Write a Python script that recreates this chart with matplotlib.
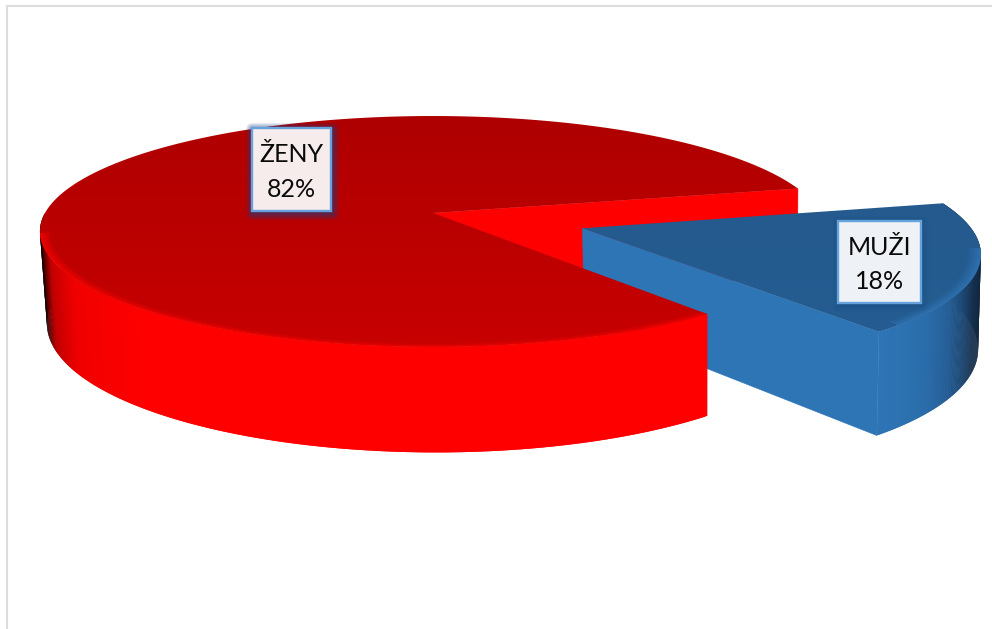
#!/usr/bin/env python3
# coding: utf-8

import numpy as np
import matplotlib
matplotlib.use("Agg")
import matplotlib.pyplot as plt
from matplotlib.collections import PolyCollection
from matplotlib.colors import LinearSegmentedColormap, to_rgb
from matplotlib.patches import FancyBboxPatch, Polygon, Rectangle

plt.rcParams['font.family'] = ['Lato', 'DejaVu Sans']

labels = ['ŽENY', 'MUŽI']
shares = [82, 18]

# pie projection, in pixels of the canvas
X0, Y0 = 433.0, 213.0   # apex of the pie
A, B = 388.0, 112.5     # half axes of the plate
K = 0.16                # perspective along the view direction
M = 0.01                # bottom plate is a little further away
SHIFT = 3.0             # sideways offset of the bottom plate
C = 91.0                # rim height
START = 13.0            # angle where the first slice starts
EXPLODE = 0.40          # pull-out of the small slice
SMALL_R = 0.98          # radius of the small slice


def project(X, Y, Z=0.0):
    w = 1 + K * Y + M * Z
    return X0 + A * X / w + SHIFT * Z, Y0 - (B * Y - C * Z) / w


def plate_xy(theta, r=1.0, dx=0.0, dy=0.0, Z=0.0):
    t = np.radians(theta)
    return project(dx + r * np.cos(t), dy + r * np.sin(t), Z)


def shade(theta, stops, cols):
    rgb = np.array([to_rgb(c) for c in cols])
    return np.column_stack([np.interp(theta, stops, rgb[:, i]) for i in range(3)])


def rim(ax, t0, t1, stops, cols, r=1.0, dx=0.0, dy=0.0, zorder=2):
    """Side of the pie as narrow overlapping quads, coloured by angle."""
    th = np.linspace(t0, t1, 300)
    xt, yt = plate_xy(th, r, dx, dy, 0.0)
    xb, yb = plate_xy(th, r, dx, dy, 1.0)
    col = shade(th, stops, cols)
    # rear quads go first, otherwise they land on top of the front ones
    order = np.argsort(-np.sin(np.radians(th[:-2])))
    quads = [[(xt[i], yt[i]), (xt[i + 2], yt[i + 2]), (xb[i + 2], yb[i + 2]), (xb[i], yb[i])] for i in order]
    ax.add_collection(PolyCollection(quads, facecolors=col[order], edgecolors='none', zorder=zorder))


def bevel(ax, t0, t1, inner, outer, width, r=1.0, dx=0.0, dy=0.0, zorder=4):
    """Soft lighter band between the top and the rim."""
    th = np.linspace(t0, t1, 200)
    radii = np.linspace(r - width, r, 7)
    inner, outer = np.array(to_rgb(inner)), np.array(to_rgb(outer))
    for j in range(len(radii) - 1):
        xa, ya = plate_xy(th, radii[j], dx, dy)
        xb, yb = plate_xy(th, radii[j + 1], dx, dy)
        pts = np.column_stack([np.r_[xa, xb[::-1]], np.r_[ya, yb[::-1]]])
        mix = (j + 0.5) / (len(radii) - 1)
        ax.add_patch(Polygon(pts, closed=True, facecolor=inner + (outer - inner) * mix,
                             edgecolor='none', zorder=zorder))


def top(ax, t0, t1, c_far, c_near, r=1.0, dx=0.0, dy=0.0, zorder=3):
    th = np.linspace(t0, t1, 300)
    xs, ys = plate_xy(th, r, dx, dy)
    ax_, ay_ = project(dx, dy)
    pts = np.column_stack([np.r_[ax_, xs], np.r_[ay_, ys]])
    clip = Polygon(pts, closed=True, facecolor='none', edgecolor='none', zorder=zorder)
    ax.add_patch(clip)
    cmap = LinearSegmentedColormap.from_list('top', [c_far, c_near])
    grad = np.linspace(0, 1, 256).reshape(-1, 1)
    im = ax.imshow(grad, cmap=cmap, aspect='auto', zorder=zorder,
                   extent=(pts[:, 0].min(), pts[:, 0].max(), pts[:, 1].max(), pts[:, 1].min()))
    im.set_clip_path(clip)


def cut_wall(ax, theta, color, r=1.0, dx=0.0, dy=0.0, zorder=1):
    x0, y0 = project(dx, dy, 0.0)
    x1, y1 = plate_xy(theta, r, dx, dy, 0.0)
    x2, y2 = plate_xy(theta, r, dx, dy, 1.0)
    x3, y3 = project(dx, dy, 1.0)
    ax.add_patch(Polygon([(x0, y0), (x1, y1), (x2, y2), (x3, y3)], closed=True,
                         facecolor=color, edgecolor=color, linewidth=0.4, zorder=zorder))


def label_box(ax, x0, y0, x1, y1, text, fill, glow):
    # blurred shadow around the box
    for g in range(7, 0, -1):
        ax.add_patch(FancyBboxPatch((x0 + 1, y0 + 2), x1 - x0, y1 - y0,
                                    boxstyle="round,pad=%d,rounding_size=%d" % (g, g),
                                    facecolor='#1c3f86', edgecolor='none', alpha=glow, zorder=8))
    ax.add_patch(Rectangle((x0, y0), x1 - x0, y1 - y0, facecolor=fill,
                           edgecolor='#66a3dc', linewidth=1.7, zorder=9))
    ax.text((x0 + x1) / 2, (y0 + y1) / 2 + 2.5, text, ha='center', va='center', fontsize=18,
            linespacing=1.6, color='#0a0a0a', zorder=10)


fig = plt.figure(figsize=(9.92, 6.29), dpi=100)
ax = fig.add_axes([0, 0, 1, 1])
ax.set_xlim(0, 992)
ax.set_ylim(629, 0)
ax.axis('off')

# thin grey chart frame, left and top only
ax.plot([7, 7, 992], [629, 6, 6], color='#dcdcdc', lw=1.5, solid_joinstyle='miter', zorder=0)

big_span = shares[0] * 3.6
small_span = shares[1] * 3.6
big_end = START + big_span
small_mid = np.radians(big_end + small_span / 2)
ex_x, ex_y = EXPLODE * np.cos(small_mid), EXPLODE * np.sin(small_mid)

red_stops = [186, 193, 197, 202, 212, 230]
red_cols = ['#000000', '#100000', '#600000', '#c00000', '#f00000', '#ff0000']
blue_stops = [big_end, big_end + 10, big_end + 17, big_end + 22, big_end + 28, big_end + 39]
blue_cols = ['#2e75b6', '#2b6dab', '#255d95', '#1e4a76', '#14304f', '#0e2036']

# far wall of the gap first, the small slice sits in front of it
cut_wall(ax, START, '#ff0000', zorder=1)

cut_wall(ax, big_end, '#2e75b6', SMALL_R, ex_x, ex_y, zorder=2)
rim(ax, big_end, START + 360, blue_stops, blue_cols, SMALL_R, ex_x, ex_y, zorder=2)
top(ax, big_end, START + 360, '#245a8d', '#255d92', SMALL_R, ex_x, ex_y, zorder=3)
bevel(ax, big_end + 4, big_end + 42, '#255d92', '#2e72b2', 0.03, SMALL_R, ex_x, ex_y, zorder=4)

# the large slice covers the inner corner of the small one
rim(ax, 180, big_end, red_stops, red_cols, zorder=5)
top(ax, START, big_end, '#ae0000', '#c80000', zorder=6)
bevel(ax, 190, big_end, '#c80000', '#f40000', 0.022, zorder=7)

label_box(ax, 252, 128, 331, 211, labels[0] + '\n%d%%' % shares[0], '#f7ecec', 0.11)
label_box(ax, 838, 221, 921, 303, labels[1] + '\n%d%%' % shares[1], '#eef1f6', 0.03)

fig.savefig('out.png', dpi=100, facecolor='white')
